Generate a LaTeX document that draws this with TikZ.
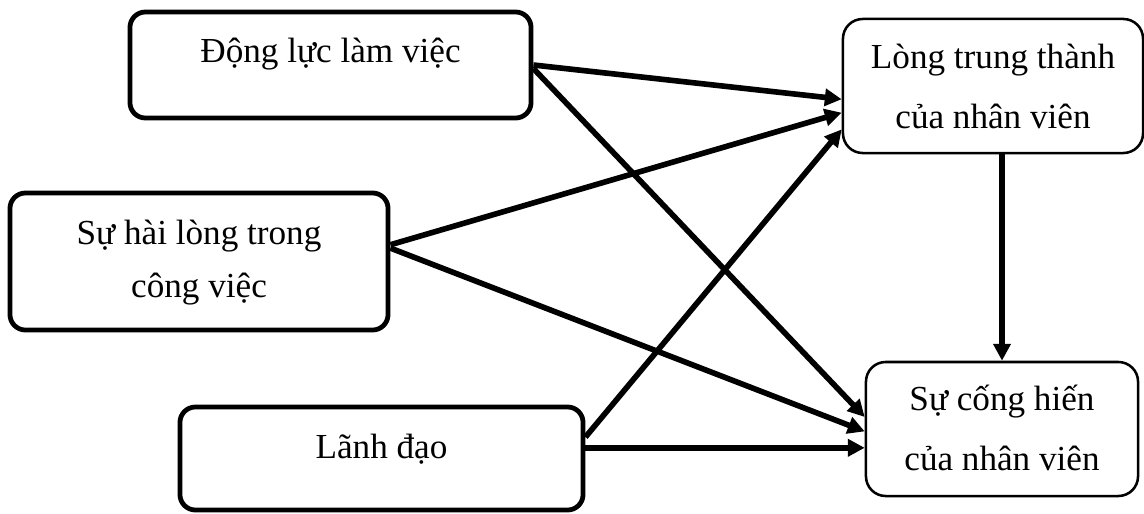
\documentclass[tikz,border=0pt]{standalone}
\usepackage{fontspec}
\setmainfont{Liberation Serif}
\usetikzlibrary{arrows.meta}
\tikzset{
      factorbox/.style={
        rounded corners=11pt,
        draw=black,
        line width=3.4pt,
        fill=white
      },
      outcomebox/.style={
        rounded corners=14pt,
        draw=black,
        line width=1.8pt,
        fill=white
      },
      boxtext/.style={
        font=\fontsize{25}{42.5}\selectfont,
        align=center,
        anchor=base,
        inner sep=0pt
      },
      effect/.style={
        -{Triangle[length=12pt,width=12pt]},
        line width=4pt
      }
    }
\begin{document}
\begin{tikzpicture}[x=0.025cm,y=-0.025cm]
    \useasboundingbox (0,0) rectangle (1144,513);
    \node[factorbox, minimum width=10.025cm, minimum height=2.65cm] (dongluc) at (330.5,65) {};
    \node[factorbox, minimum width=9.45cm, minimum height=3.425cm] (hailong) at (199,261.5) {};
    \node[factorbox, minimum width=10.075cm, minimum height=2.575cm] (lanhdao) at (381.5,458.5) {};
    \node[outcomebox, minimum width=7.5cm, minimum height=3.35cm] (trungthanh) at (993,86) {};
    \node[outcomebox, minimum width=6.8cm, minimum height=3.35cm] (conghien) at (1002,429) {};
    % base anchor sits on the last line
    \node[boxtext] (dongluc-txt) at (330.5,62) {Động lực làm việc};
    \node[boxtext, font=\fontsize{25}{37}\selectfont] (hailong-txt) at (199,297) {Sự hài lòng trong\\công việc};
    \node[boxtext] (lanhdao-txt) at (381.5,458) {Lãnh đạo};
    \node[boxtext] (trungthanh-txt) at (993,128) {Lòng trung thành\\của nhân viên};
    \node[boxtext] (conghien-txt) at (1002,470) {Sự cống hiến\\của nhân viên};
    \coordinate (lanhdao-out) at (lanhdao.3.8);
    \draw[effect] (dongluc.east) -- (trungthanh.185);
    \draw[effect] (dongluc.-1) -- (conghien.175);
    \draw[effect] (hailong.5) -- (trungthanh.190);
    \draw[effect] (hailong.4) -- (conghien.181.7);
    \draw[effect] (lanhdao.6) -- (trungthanh.196);
    \draw[effect] (lanhdao-out) -- (lanhdao-out -| conghien.west);
    \draw[effect] (trungthanh.south -| conghien.north) -- (conghien.north);
\end{tikzpicture}
\end{document}
